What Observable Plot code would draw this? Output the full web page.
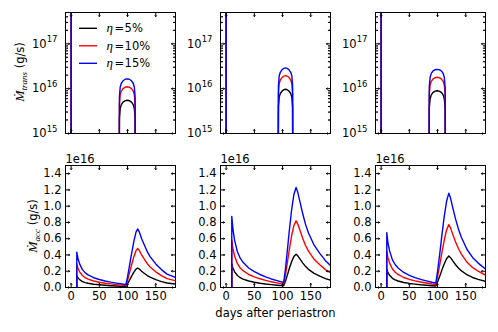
<!DOCTYPE html>
<html><head><meta charset="utf-8">
<script src="https://cdn.jsdelivr.net/npm/d3@7"></script>
<script src="https://cdn.jsdelivr.net/npm/@observablehq/plot@0.6"></script>
<style>
body{margin:0;background:#fff;}
#chart{position:relative;width:498px;height:332px;overflow:hidden;font-family:"DejaVu Sans",sans-serif;background:#fff;}
</style></head><body><div id="chart"></div>
<script>
// ---------- data ----------
const etaLabels = ["5%", "10%", "15%"];
const colors = ["black", "red", "blue"];
const xDomain = [-10, 185];
const xTicks = [0, 50, 100, 150];
const yLogDomain = [1e15, 5e17];
const yLogMajor = [1e15, 1e16, 1e17];
const yLogMinor = [2e15,3e15,4e15,5e15,6e15,7e15,8e15,9e15,2e16,3e16,4e16,5e16,6e16,7e16,8e16,9e16,2e17,3e17,4e17];
const yLinDomain = [0, 1.5];          // units of 1e16 g/s
const yLinTicks = [0, 0.2, 0.4, 0.6, 0.8, 1.0, 1.2, 1.4];
const offsetLabel = "1e16";

// top row: mass transfer rate (g/s)
const transX1 = [0, 0, 0, 85.3, 85.6, 87, 89, 92, 96, 99.5, 103, 107, 110, 112, 113.4, 113.7, 185];
const trans5_1  = [1e14, 1e19, 1e14, 1e14, 2.2e15, 3.6e15, 4.4e15, 5.0e15, 5.4e15, 5.5e15, 5.4e15, 5.0e15, 4.4e15, 3.6e15, 2.2e15, 1e14, 1e14];
const trans10_1 = [1e14, 1e19, 1e14, 1e14, 4.4e15, 7.3e15, 8.8e15, 1.0e16, 1.08e16, 1.1e16, 1.08e16, 1.0e16, 8.8e15, 7.3e15, 4.4e15, 1e14, 1e14];
const trans15_1 = [1e14, 1e19, 1e14, 1e14, 6.6e15, 1.09e16, 1.32e16, 1.5e16, 1.62e16, 1.65e16, 1.62e16, 1.5e16, 1.32e16, 1.09e16, 6.6e15, 1e14, 1e14];

const transX2 = [0, 0, 0, 92.4, 92.7, 94, 96, 99, 102.2, 105.25, 108.3, 111.5, 114.5, 116.5, 117.8, 118.1, 185];
const trans5_2  = [1e14, 1e19, 1e14, 1e14, 3.9e15, 6.4e15, 7.8e15, 8.8e15, 9.5e15, 9.7e15, 9.5e15, 8.8e15, 7.8e15, 6.4e15, 3.9e15, 1e14, 1e14];
const trans10_2 = [1e14, 1e19, 1e14, 1e14, 7.8e15, 1.29e16, 1.56e16, 1.77e16, 1.91e16, 1.95e16, 1.91e16, 1.77e16, 1.56e16, 1.29e16, 7.8e15, 1e14, 1e14];
const trans15_2 = [1e14, 1e19, 1e14, 1e14, 1.16e16, 1.91e16, 2.32e16, 2.64e16, 2.84e16, 2.9e16, 2.84e16, 2.64e16, 2.32e16, 1.91e16, 1.16e16, 1e14, 1e14];

const transX3 = [0, 0, 0, 85.0, 85.3, 86.8, 88.7, 91.6, 95.8, 99.4, 103, 107.2, 110.1, 112, 113.5, 113.8, 185];
const trans5_3  = [1e14, 1e19, 1e14, 1e14, 3.6e15, 5.9e15, 7.2e15, 8.2e15, 8.8e15, 9.0e15, 8.8e15, 8.2e15, 7.2e15, 5.9e15, 3.6e15, 1e14, 1e14];
const trans10_3 = [1e14, 1e19, 1e14, 1e14, 7.2e15, 1.19e16, 1.44e16, 1.64e16, 1.76e16, 1.8e16, 1.76e16, 1.64e16, 1.44e16, 1.19e16, 7.2e15, 1e14, 1e14];
const trans15_3 = [1e14, 1e19, 1e14, 1e14, 1.08e16, 1.78e16, 2.16e16, 2.46e16, 2.65e16, 2.7e16, 2.65e16, 2.46e16, 2.16e16, 1.78e16, 1.08e16, 1e14, 1e14];

// bottom row: accretion rate (1e16 g/s)
const accX1 = [10, 10, 12, 15, 20, 25, 30, 40, 50, 60, 70, 80, 90, 97, 100, 103, 107, 111, 115, 118, 121, 125, 130, 135, 140, 150, 160, 170, 185];
const acc5_1  = [0, 0.145, 0.12, 0.097, 0.073, 0.06, 0.052, 0.04, 0.033, 0.027, 0.022, 0.018, 0.014, 0.012, 0.043, 0.083, 0.137, 0.187, 0.227, 0.24, 0.227, 0.2, 0.173, 0.147, 0.127, 0.097, 0.073, 0.055, 0.042];
const acc10_1 = [0, 0.29, 0.24, 0.193, 0.147, 0.12, 0.103, 0.08, 0.065, 0.053, 0.044, 0.036, 0.029, 0.024, 0.087, 0.167, 0.273, 0.373, 0.453, 0.48, 0.453, 0.4, 0.347, 0.293, 0.253, 0.193, 0.147, 0.11, 0.083];
const acc15_1 = [0, 0.435, 0.36, 0.29, 0.22, 0.18, 0.155, 0.12, 0.098, 0.08, 0.066, 0.054, 0.043, 0.036, 0.13, 0.25, 0.41, 0.56, 0.68, 0.72, 0.68, 0.6, 0.52, 0.44, 0.38, 0.29, 0.22, 0.165, 0.125];

const accX2 = [10, 10, 12, 15, 20, 25, 30, 40, 50, 60, 70, 80, 90, 102, 105, 108, 112, 116, 120, 124, 127, 131, 136, 141, 146, 156, 166, 176, 185];
const acc5_2  = [0, 0.29, 0.24, 0.193, 0.147, 0.12, 0.103, 0.08, 0.065, 0.053, 0.043, 0.035, 0.028, 0.021, 0.073, 0.14, 0.233, 0.317, 0.38, 0.41, 0.39, 0.35, 0.3, 0.257, 0.223, 0.173, 0.14, 0.11, 0.09];
const acc10_2 = [0, 0.583, 0.48, 0.387, 0.293, 0.24, 0.207, 0.16, 0.13, 0.107, 0.087, 0.07, 0.057, 0.041, 0.147, 0.28, 0.467, 0.633, 0.76, 0.82, 0.78, 0.7, 0.6, 0.513, 0.447, 0.347, 0.28, 0.22, 0.18];
const acc15_2 = [0, 0.875, 0.72, 0.58, 0.44, 0.36, 0.31, 0.24, 0.195, 0.16, 0.13, 0.105, 0.085, 0.062, 0.22, 0.42, 0.7, 0.95, 1.14, 1.23, 1.17, 1.05, 0.9, 0.77, 0.67, 0.52, 0.42, 0.33, 0.27];

const accX3 = [10, 10, 12, 15, 20, 25, 30, 40, 50, 60, 70, 80, 90, 97, 100, 104, 108, 112, 116, 120, 123, 127, 132, 137, 142, 152, 162, 172, 185];
const acc5_3  = [0, 0.225, 0.183, 0.15, 0.113, 0.093, 0.08, 0.062, 0.05, 0.041, 0.033, 0.027, 0.022, 0.018, 0.067, 0.14, 0.22, 0.293, 0.353, 0.387, 0.367, 0.327, 0.28, 0.24, 0.207, 0.157, 0.123, 0.1, 0.076];
const acc10_3 = [0, 0.45, 0.367, 0.3, 0.227, 0.187, 0.16, 0.123, 0.1, 0.081, 0.067, 0.055, 0.043, 0.037, 0.133, 0.28, 0.44, 0.587, 0.707, 0.773, 0.733, 0.653, 0.56, 0.48, 0.413, 0.313, 0.247, 0.2, 0.152];
const acc15_3 = [0, 0.675, 0.55, 0.45, 0.34, 0.28, 0.24, 0.185, 0.15, 0.122, 0.1, 0.082, 0.065, 0.055, 0.2, 0.42, 0.66, 0.88, 1.06, 1.16, 1.1, 0.98, 0.84, 0.72, 0.62, 0.47, 0.37, 0.3, 0.228];

const topPanels = [
  {x: transX1, ys: [trans5_1, trans10_1, trans15_1]},
  {x: transX2, ys: [trans5_2, trans10_2, trans15_2]},
  {x: transX3, ys: [trans5_3, trans10_3, trans15_3]}
];
const botPanels = [
  {x: accX1, ys: [acc5_1, acc10_1, acc15_1]},
  {x: accX2, ys: [acc5_2, acc10_2, acc15_2]},
  {x: accX3, ys: [acc5_3, acc10_3, acc15_3]}
];

// ---------- layout ----------
const chart = document.getElementById("chart");
const FW = 110, FH_TOP = 121, FH_BOT = 122;
const frameLefts = [65, 220, 375];
const TOP_Y = 12, BOT_Y = 165;
const ML = 45, MR = 8;
const FONT = "'DejaVu Sans', sans-serif";
const SERIF = "'Liberation Serif', 'DejaVu Serif', serif";

function place(el, left, top) {
  el.style.position = "absolute";
  el.style.left = left + "px";
  el.style.top = top + "px";
  chart.appendChild(el);
}
function inTicks(values, dim, anchor, len) {
  const rotate = {bottom: 0, top: 180, left: 90, right: -90}[anchor];
  return Plot.vector(values, {[dim]: d => d, frameAnchor: anchor, length: len, rotate, anchor: "start", stroke: "black", strokeWidth: 1});
}
function lineMarks(p) {
  return p.ys.map((arr, k) => Plot.line(p.x.map((x, i) => ({x, y: arr[i]})),
    {x: "x", y: "y", stroke: colors[k], strokeWidth: 1.4, clip: true}));
}
const style = {background: "transparent", overflow: "visible", fontFamily: FONT, fontSize: "11.5px", color: "black"};

topPanels.forEach((p, c) => {
  const svg = Plot.plot({
    width: ML + FW + MR, height: TOP_Y + FH_TOP + 8,
    marginLeft: ML, marginRight: MR, marginTop: TOP_Y, marginBottom: 8,
    style,
    x: {domain: xDomain, axis: null},
    y: {type: "log", domain: yLogDomain, axis: null},
    marks: [
      ...lineMarks(p),
      inTicks(xTicks, "x", "bottom", 4), inTicks(xTicks, "x", "top", 4),
      inTicks(yLogMajor, "y", "left", 4), inTicks(yLogMajor, "y", "right", 4),
      inTicks(yLogMinor, "y", "left", 2), inTicks(yLogMinor, "y", "right", 2),
      Plot.text(yLogMajor, {y: d => d, frameAnchor: "left", textAnchor: "end", dx: -8,
        text: d => String(Math.round(Math.log10(d))), fontSize: 11.5, fill: "black"}),
      Plot.frame({stroke: "black", strokeWidth: 1})
    ]
  });
  svg.querySelectorAll("text").forEach(t => {
    const e = t.textContent;
    if (!/^1[5-7]$/.test(e)) return;
    t.textContent = "10";
    const ts = document.createElementNS("http://www.w3.org/2000/svg", "tspan");
    ts.setAttribute("dy", "-5.5");
    ts.setAttribute("font-size", "8.5");
    ts.textContent = e;
    t.appendChild(ts);
  });
  place(svg, frameLefts[c] - ML, 0);
});

botPanels.forEach((p, c) => {
  const MT = 25, MB = 32;
  const marks = [
    ...lineMarks(p),
    inTicks(xTicks, "x", "bottom", 4), inTicks(xTicks, "x", "top", 4),
    inTicks(yLinTicks, "y", "left", 4), inTicks(yLinTicks, "y", "right", 4),
    Plot.axisX(xTicks, {tickSize: 0, tickPadding: 4, label: null, fontSize: 11.5}),
    Plot.axisY(yLinTicks, {tickSize: 0, tickPadding: 4, label: null, fontSize: 11.5, tickFormat: d => d.toFixed(1)}),
    Plot.text([offsetLabel], {frameAnchor: "top-left", textAnchor: "start", lineAnchor: "bottom", dy: -2.5, fontSize: 11.5, fill: "black"}),
    Plot.frame({stroke: "black", strokeWidth: 1})
  ];
  if (c === 1) marks.push(Plot.text(["days after periastron"], {frameAnchor: "bottom", lineAnchor: "top", dy: 21.5, fontSize: 11.5, fill: "black"}));
  const svg = Plot.plot({
    width: ML + FW + MR, height: MT + FH_BOT + MB,
    marginLeft: ML, marginRight: MR, marginTop: MT, marginBottom: MB,
    style,
    x: {domain: xDomain},
    y: {domain: yLinDomain},
    marks
  });
  place(svg, frameLefts[c] - ML, BOT_Y - MT);
});

// ---------- overlay: y labels and legend ----------
const ov = d3.create("svg").attr("width", 498).attr("height", 332)
  .style("position", "absolute").style("left", "0px").style("top", "0px")
  .style("font-family", FONT).style("font-size", "11.5px");
function ylab(x, y, sub) {
  const t = ov.append("text").attr("transform", `translate(${x},${y}) rotate(-90)`).attr("text-anchor", "middle").attr("fill", "black");
  t.append("tspan").style("font-family", SERIF).style("font-style", "italic").style("font-size", "13.5px").text("Ṁ");
  t.append("tspan").attr("dy", 2.5).style("font-family", SERIF).style("font-style", "italic").style("font-size", "9px").text(sub);
  t.append("tspan").attr("dy", -2.5).text(" (g/s)");
}
ylab(24, 72, "trans");
ylab(37, 226, "acc");
const legendY = [28.3, 45.8, 63.3];
etaLabels.forEach((lab, k) => {
  const y = legendY[k];
  ov.append("line").attr("x1", 79).attr("x2", 97).attr("y1", y).attr("y2", y).attr("stroke", colors[k]).attr("stroke-width", 1.4);
  const t = ov.append("text").attr("x", 106.5).attr("y", y).attr("dy", "0.35em").attr("fill", "black");
  t.append("tspan").style("font-family", SERIF).style("font-style", "italic").style("font-size", "13px").text("η");
  t.append("tspan").attr("dx", 1.5).text("=");
  t.append("tspan").attr("dx", 0.5).text(lab);
});
chart.appendChild(ov.node());
</script></body></html>
